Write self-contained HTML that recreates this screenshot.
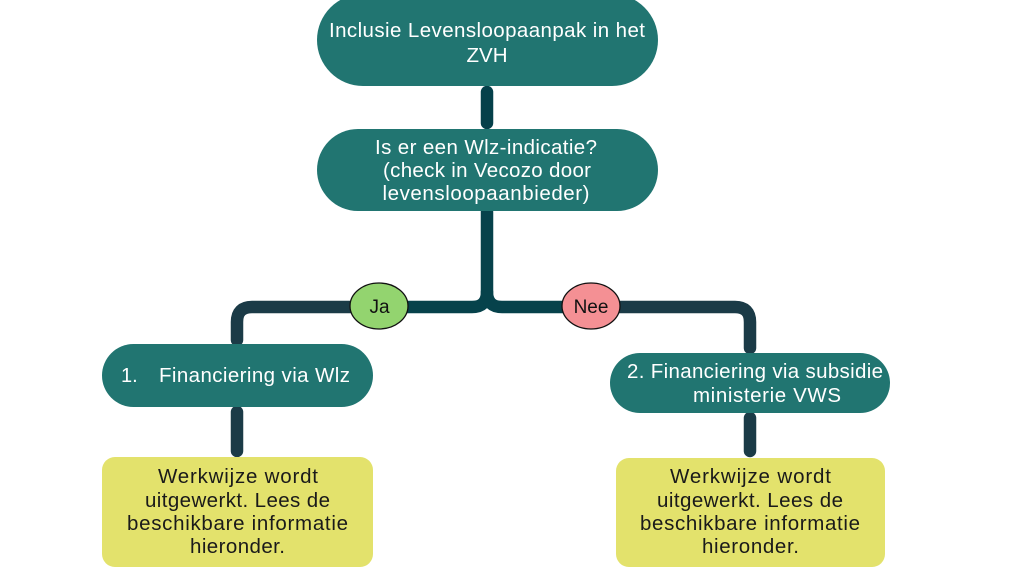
<!DOCTYPE html>
<html>
<head>
<meta charset="utf-8">
<style>
html,body{margin:0;padding:0;background:#fff;width:1024px;height:576px;overflow:hidden;}
svg{display:block;}
text{font-family:"Liberation Sans",sans-serif;}
</style>
</head>
<body>
<svg width="1024" height="576" viewBox="0 0 1024 576" xmlns="http://www.w3.org/2000/svg">
  <!-- connectors -->
  <g fill="none" stroke-width="12.5" stroke-linecap="round" stroke-linejoin="round">
    <path d="M487,92 V123" stroke="#05404a"/>
    <path d="M487,212 V292 Q487,307 472,307 H379" stroke="#06424b"/>
    <path d="M487,292 Q487,307 502,307 H591" stroke="#06424b"/>
    <path d="M379,307 H252 Q237,307 237,322 V340" stroke="#1b3b47"/>
    <path d="M591,307 H735 Q750,307 750,322 V348" stroke="#1b3b47"/>
    <path d="M237,412 V451" stroke="#1b3b47"/>
    <path d="M750,418 V451" stroke="#1b3b47"/>
  </g>

  <!-- top box -->
  <rect x="317" y="-6" width="341" height="92" rx="46" ry="46" fill="#217571"/>
  <text x="487" y="37" font-size="20.5" fill="#fff" text-anchor="middle" textLength="316" lengthAdjust="spacing">Inclusie Levensloopaanpak in het</text>
  <text x="487" y="62" font-size="20.5" fill="#fff" text-anchor="middle">ZVH</text>

  <!-- second box -->
  <rect x="317" y="129" width="341" height="82" rx="41" ry="41" fill="#217571"/>
  <text x="486" y="154" font-size="20.5" fill="#fff" text-anchor="middle" textLength="222" lengthAdjust="spacing">Is er een Wlz-indicatie?</text>
  <text x="487" y="177" font-size="20.5" fill="#fff" text-anchor="middle" textLength="208" lengthAdjust="spacing">(check in Vecozo door</text>
  <text x="486" y="200" font-size="20.5" fill="#fff" text-anchor="middle" textLength="207" lengthAdjust="spacing">levensloopaanbieder)</text>

  <!-- Ja / Nee -->
  <ellipse cx="379" cy="306" rx="29" ry="23" fill="#93d46f" stroke="#111" stroke-width="1.3"/>
  <text x="379.5" y="313" font-size="19" fill="#111" text-anchor="middle">Ja</text>
  <ellipse cx="591" cy="306" rx="29" ry="23" fill="#f49094" stroke="#111" stroke-width="1.3"/>
  <text x="591" y="313" font-size="19" fill="#111" text-anchor="middle">Nee</text>

  <!-- left teal -->
  <rect x="102" y="344" width="271" height="63" rx="31.5" ry="31.5" fill="#217571"/>
  <text x="121" y="382" font-size="20" fill="#fff">1.</text>
  <text x="159" y="382" font-size="20.5" fill="#fff" textLength="191" lengthAdjust="spacing">Financiering via Wlz</text>

  <!-- right teal -->
  <rect x="610" y="353" width="280" height="60" rx="30" ry="30" fill="#217571"/>
  <text x="755" y="378" font-size="20.5" fill="#fff" text-anchor="middle" textLength="256" lengthAdjust="spacing">2. Financiering via subsidie</text>
  <text x="767" y="402" font-size="20.5" fill="#fff" text-anchor="middle" textLength="148" lengthAdjust="spacing">ministerie VWS</text>

  <!-- yellow boxes -->
  <rect x="102" y="457" width="271" height="110" rx="13" ry="13" fill="#e3e26c"/>
  <g font-size="20.5" fill="#1a1a1a" text-anchor="middle">
    <text x="238" y="483" textLength="160" lengthAdjust="spacing">Werkwijze wordt</text>
    <text x="237.5" y="507" textLength="185" lengthAdjust="spacing">uitgewerkt. Lees de</text>
    <text x="237.5" y="530" textLength="221" lengthAdjust="spacing">beschikbare informatie</text>
    <text x="237.5" y="553" textLength="95" lengthAdjust="spacing">hieronder.</text>
  </g>

  <rect x="616" y="458" width="269" height="109" rx="13" ry="13" fill="#e3e26c"/>
  <g font-size="20.5" fill="#1a1a1a" text-anchor="middle">
    <text x="750.5" y="483" textLength="161" lengthAdjust="spacing">Werkwijze wordt</text>
    <text x="750" y="507" textLength="186" lengthAdjust="spacing">uitgewerkt. Lees de</text>
    <text x="750" y="530" textLength="220" lengthAdjust="spacing">beschikbare informatie</text>
    <text x="750.5" y="553" textLength="97" lengthAdjust="spacing">hieronder.</text>
  </g>
</svg>
</body>
</html>
